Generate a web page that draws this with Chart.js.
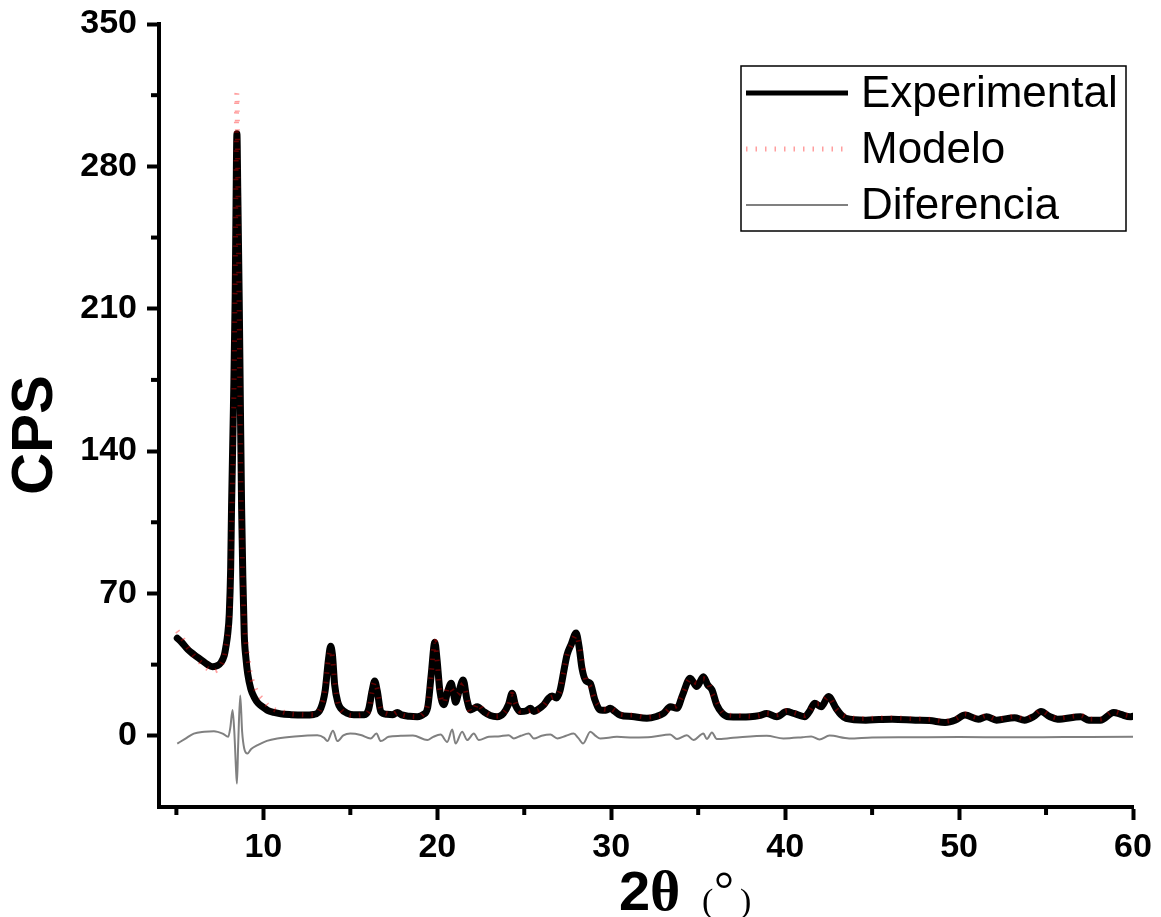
<!DOCTYPE html>
<html>
<head>
<meta charset="utf-8">
<script src="https://cdn.jsdelivr.net/npm/chart.js@4.4.0/dist/chart.umd.min.js"></script>
<style>
  html, body { margin: 0; padding: 0; background: #fff; }
  #wrap { width: 1161px; height: 917px; }
</style>
</head>
<body>
<div id="wrap"><canvas id="xrd" width="1161" height="917"></canvas></div>
<script>
// 2theta positions of the measured pattern
const expTheta = [
  5.05, 5.3, 5.65, 6.0, 6.4, 6.8, 7.08, 7.35, 7.56, 7.75,
  7.85, 7.95, 8.04, 8.12, 8.17, 8.28, 8.38, 8.43, 8.48, 8.53,
  8.61, 8.68, 8.75, 8.82, 8.9, 9.0, 9.1, 9.28, 9.5, 9.7,
  10.0, 10.24, 10.6, 11.0, 11.6, 12.3, 12.9, 13.3, 13.55, 13.75,
  13.87, 13.97, 14.1, 14.3, 14.45, 14.8, 15.2, 15.8, 16.05, 16.25,
  16.4, 16.55, 16.75, 17.1, 17.45, 17.7, 17.95, 18.4, 18.85, 19.2,
  19.45, 19.65, 19.86, 19.98, 20.15, 20.38, 20.6, 20.8, 20.95, 21.05,
  21.25, 21.49, 21.7, 21.9, 22.1, 22.3, 22.67, 23.05, 23.44, 23.8,
  24.1, 24.3, 24.5, 24.78, 25.1, 25.36, 25.55, 25.74, 26.12, 26.4,
  26.6, 26.85, 27.05, 27.3, 27.46, 27.7, 27.98, 28.15, 28.32, 28.55,
  28.8, 29.05, 29.37, 29.7, 29.95, 30.2, 30.52, 31.2, 32.05, 32.6,
  33.0, 33.4, 33.78, 34.1, 34.54, 34.92, 35.3, 35.55, 35.79, 36.07,
  36.4, 36.74, 37.4, 37.99, 38.5, 38.94, 39.52, 40.09, 40.5, 41.12,
  41.4, 41.69, 42.07, 42.49, 42.93, 43.2, 43.5, 44.64, 45.4, 46.16,
  47.49, 48.3, 49.2, 49.8, 50.34, 51.1, 51.58, 52.15, 53.19, 53.76,
  54.3, 54.71, 55.2, 55.66, 56.99, 57.47, 58.13, 58.89, 59.3, 59.84,
  60.0
];
// Experimental CPS
const expCps = [
  48, 46, 42.5, 40, 37.5, 35, 34, 34.5, 36, 39.5,
  44, 50, 60, 82, 112, 162, 216, 262, 296, 267,
  216, 162, 112, 78, 50, 38, 30.5, 23, 18.5, 16,
  14, 12.5, 11.5, 10.8, 10.4, 10.2, 10.5, 13.5, 22, 38,
  44, 40, 25, 16, 13.5, 11.2, 10.4, 10.4, 13, 22,
  27, 22, 12, 10.6, 10.4, 11.5, 10.3, 9.6, 9.4, 10.5,
  14, 30, 46, 38, 22, 15.3, 22, 25.8, 20, 16.5,
  22, 27.5, 18, 12.7, 13.5, 14.3, 11.9, 10, 9.4, 11,
  15.5, 20.9, 15, 11.9, 12.2, 13.5, 12, 12.7, 15.2, 18.5,
  19.6, 18.6, 22, 33, 39.8, 45, 50.5, 44, 33.2, 27,
  25.8, 18, 12.7, 12.6, 13.5, 12, 10.2, 9.5, 8.6, 9.5,
  11, 14.3, 13.5, 20, 28.3, 24.2, 29.1, 25, 22.6, 15.2,
  11, 9.4, 9.3, 9.4, 9.9, 11, 9.4, 11.9, 11, 9.4,
  12, 16, 14.3, 19.3, 13.5, 10.5, 8.6, 7.7, 8.0, 8.2,
  7.7, 7.5, 6.6, 7.8, 10.2, 8.2, 9.4, 7.7, 8.9, 7.7,
  9.5, 11.9, 9.5, 8.2, 9.4, 7.7, 7.7, 11.5, 10.5, 9.4,
  9.6
];
// Modelo CPS (same positions as the measured pattern)
const modelCps = [
  51.5, 48.5, 43.5, 39.5, 36, 33, 31.8, 32.5, 34.8, 39,
  44.5, 49, 56, 74, 102, 152, 227, 280, 316, 277,
  207, 142, 102, 77, 56, 46, 39, 29.5, 24, 20.5,
  17.5, 15, 13, 12, 10.7, 10.4, 10.3, 14, 23, 38.5,
  42, 39, 27, 15.5, 13, 10.5, 10, 10.6, 12, 21.5,
  26.5, 23, 13.5, 10.8, 10.4, 11.5, 10.3, 9.5, 9.3, 11,
  15.5, 30, 46.5, 38, 21.5, 16, 24, 23, 21, 20,
  21, 25.5, 19.5, 12, 12.5, 16, 12.2, 10.2, 9.6, 11,
  15, 20.5, 16, 12, 12, 12.5, 13.2, 12.5, 15, 18,
  19, 19.8, 22, 33, 39.8, 44.5, 49.5, 45, 37, 27,
  24, 18, 14, 13, 13.6, 12.4, 10.6, 10.2, 9.2, 9.8,
  10.5, 13.7, 15, 20, 28, 26.2, 28, 26.6, 21, 16.8,
  11.6, 10.2, 10, 9.6, 9.9, 11, 10.4, 12.3, 11.4, 10,
  12.3, 15.5, 16, 19.2, 13.2, 11, 9.6, 8.5, 8.8, 8.9,
  8.4, 8.2, 7.2, 8.4, 10.8, 8.9, 10, 8.3, 9.6, 8.4,
  10.1, 12.5, 10.1, 8.8, 10, 8.3, 8.3, 12, 11, 9.9,
  10.1
];
// Diferencia (experimental - modelo)
const diffTheta = [
  5.05, 5.5, 6.0, 6.6, 7.16, 7.66, 7.98, 8.1, 8.23, 8.33,
  8.42, 8.48, 8.55, 8.67, 8.78, 8.9, 9.09, 9.3, 9.67, 10.2,
  10.8, 11.8, 13.1, 13.5, 13.68, 14.0, 14.26, 14.6, 15.0, 15.6,
  16.17, 16.5, 16.75, 17.2, 17.9, 18.6, 19.43, 19.77, 20.19, 20.57,
  20.86, 21.05, 21.43, 21.72, 22.1, 22.39, 22.96, 23.5, 24.1, 24.4,
  24.8, 25.26, 25.55, 26.0, 26.5, 26.9, 27.4, 27.84, 28.1, 28.38,
  28.8, 29.1, 29.37, 30.33, 31.28, 32.3, 33.39, 33.78, 34.35, 34.73,
  35.3, 35.5, 35.79, 36.07, 37.0, 38.94, 39.9, 41.0, 41.5, 41.97,
  42.55, 43.68, 45.0, 47.0, 50.0, 53.0, 56.0, 60.0
];
const diffCps = [
  -3.8, -1.5, 1.1, 2.0, 2.3, 1.1, -0.5, 4, 12.7, 2,
  -15, -23.5, -5, 19.8, 2, -6.2, -8.7, -6.5, -4.6, -2.5,
  -1.3, -0.3, 0.3, -1, -2.6, 2.5, -2.6, 0.2, 1.1, 0.4,
  -1.3, 1.1, -2.6, -0.5, 0, 0.2, -2.1, -0.5, 0.6, -3.0,
  3.1, -3.8, 2, -2.1, 1.1, -2.1, -0.5, -0.3, 0.3, -1.3,
  0, 1.1, -1.3, 0, 0.6, -1.3, 0, 1.1, -1, -3.8,
  2, 0, -1.3, -0.5, -0.8, -0.6, 0.6, -1.6, 0.3, -2.1,
  1.1, -1.6, 1.6, -1.6, -1, 0, -1.3, -0.7, -0.3, -1.8,
  0.1, -1.3, -0.8, -0.7, -0.6, -0.7, -0.6, -0.5
];

// axis ticks
const xMajor = [10, 20, 30, 40, 50, 60];
const xMinor = [5, 15, 25, 35, 45, 55];
const yMajor = [0, 70, 140, 210, 280, 350];
const yMinor = [35, 105, 175, 245, 315];

const seriesNames = ['Experimental', 'Modelo', 'Diferencia'];

const pairs = (xs, ys) => xs.map((x, i) => ({ x: x, y: ys[i] }));

// minor ticks, axis titles and the boxed legend
const extras = {
  id: 'extras',
  afterDraw(chart) {
    const c = chart.ctx;
    const xs = chart.scales.x, ys = chart.scales.y;
    const area = chart.chartArea;
    c.save();
    c.strokeStyle = '#000';
    c.lineWidth = 4;
    c.lineCap = 'butt';
    xMinor.forEach(v => {
      const px = xs.getPixelForValue(v);
      c.beginPath(); c.moveTo(px, area.bottom); c.lineTo(px, area.bottom + 8); c.stroke();
    });
    yMinor.forEach(v => {
      const py = ys.getPixelForValue(v);
      c.beginPath(); c.moveTo(area.left, py); c.lineTo(area.left - 8, py); c.stroke();
    });

    // y title
    c.fillStyle = '#000';
    c.save();
    c.translate(36, 435);
    c.rotate(-Math.PI / 2);
    c.font = 'bold 58px "Liberation Sans"';
    c.textAlign = 'center';
    c.textBaseline = 'middle';
    c.fillText('CPS', 0, 0);
    c.restore();

    // x title: 2θ (°)
    c.textAlign = 'left';
    c.textBaseline = 'alphabetic';
    c.font = 'bold 56px "Liberation Sans"';
    c.fillText('2', 619, 910);
    c.font = 'bold 58px "Liberation Serif"';
    c.fillText('θ', 650, 910);
    c.font = '34px "Liberation Serif"';
    c.fillText('(', 702, 912);
    c.fillText(')', 740, 912);
    c.font = '50px "Liberation Serif"';
    c.fillText('°', 714, 906);

    // legend
    const box = { x: 741, y: 66, w: 385, h: 165 };
    c.lineWidth = 1.5;
    c.strokeRect(box.x, box.y, box.w, box.h);
    const rows = [93, 149, 205];
    chart.data.datasets.forEach((ds, i) => {
      const ry = rows[i];
      c.beginPath();
      c.strokeStyle = ds.borderColor;
      c.lineWidth = ds.legendWidth;
      c.setLineDash(ds.borderDash || []);
      c.moveTo(746, ry); c.lineTo(848, ry);
      c.stroke();
      c.setLineDash([]);
      c.fillStyle = '#000';
      c.font = '44px "Liberation Sans"';
      c.textBaseline = 'middle';
      c.fillText(ds.label, 861, ry + 2);
    });
    c.restore();
  }
};

const ctx = document.getElementById('xrd').getContext('2d');
const xrdChart = new Chart(ctx, {
  type: 'scatter',
  data: {
    datasets: [
      {
        label: seriesNames[0],
        data: pairs(expTheta, expCps),
        showLine: true,
        borderColor: '#000000',
        borderWidth: 7,
        legendWidth: 5,
        pointRadius: 0,
        cubicInterpolationMode: 'monotone',
        borderJoinStyle: 'round',
        borderCapStyle: 'round',
        order: 3
      },
      {
        label: seriesNames[1],
        data: pairs(expTheta, modelCps),
        showLine: true,
        borderColor: 'rgba(255, 0, 0, 0.38)',
        borderWidth: 5,
        legendWidth: 5,
        borderDash: [1.5, 8],
        pointRadius: 0,
        cubicInterpolationMode: 'monotone',
        order: 1
      },
      {
        label: seriesNames[2],
        data: pairs(diffTheta, diffCps),
        showLine: true,
        borderColor: '#808080',
        borderWidth: 2,
        legendWidth: 2,
        pointRadius: 0,
        cubicInterpolationMode: 'monotone',
        order: 2
      }
    ]
  },
  options: {
    responsive: false,
    animation: false,
    devicePixelRatio: 1,
    layout: { padding: { top: 24, right: 28, left: 0, bottom: 0 } },
    plugins: {
      legend: { display: false },
      tooltip: { enabled: false }
    },
    scales: {
      x: {
        type: 'linear',
        min: 4,
        max: 60,
        afterFit: s => { s.height = 110; s.paddingLeft = 0; s.paddingRight = 0; },
        afterBuildTicks: s => { s.ticks = xMajor.map(v => ({ value: v })); },
        grid: { drawOnChartArea: false, drawTicks: true, tickLength: 13, tickWidth: 4, color: '#000' },
        border: { display: true, width: 4, color: '#000' },
        ticks: {
          color: '#000',
          padding: 7,
          maxRotation: 0,
          autoSkip: false,
          font: { family: 'Liberation Sans', weight: 'bold', size: 34 }
        }
      },
      y: {
        type: 'linear',
        min: -35,
        max: 350,
        afterFit: s => { s.width = 159; s.paddingTop = 0; s.paddingBottom = 0; },
        afterBuildTicks: s => { s.ticks = yMajor.map(v => ({ value: v })); },
        grid: { drawOnChartArea: false, drawTicks: true, tickLength: 12, tickWidth: 4, color: '#000' },
        border: { display: true, width: 4, color: '#000' },
        ticks: {
          color: '#000',
          padding: 10,
          autoSkip: false,
          font: { family: 'Liberation Sans', weight: 'bold', size: 34 }
        }
      }
    }
  },
  plugins: [extras]
});
</script>
</body>
</html>
